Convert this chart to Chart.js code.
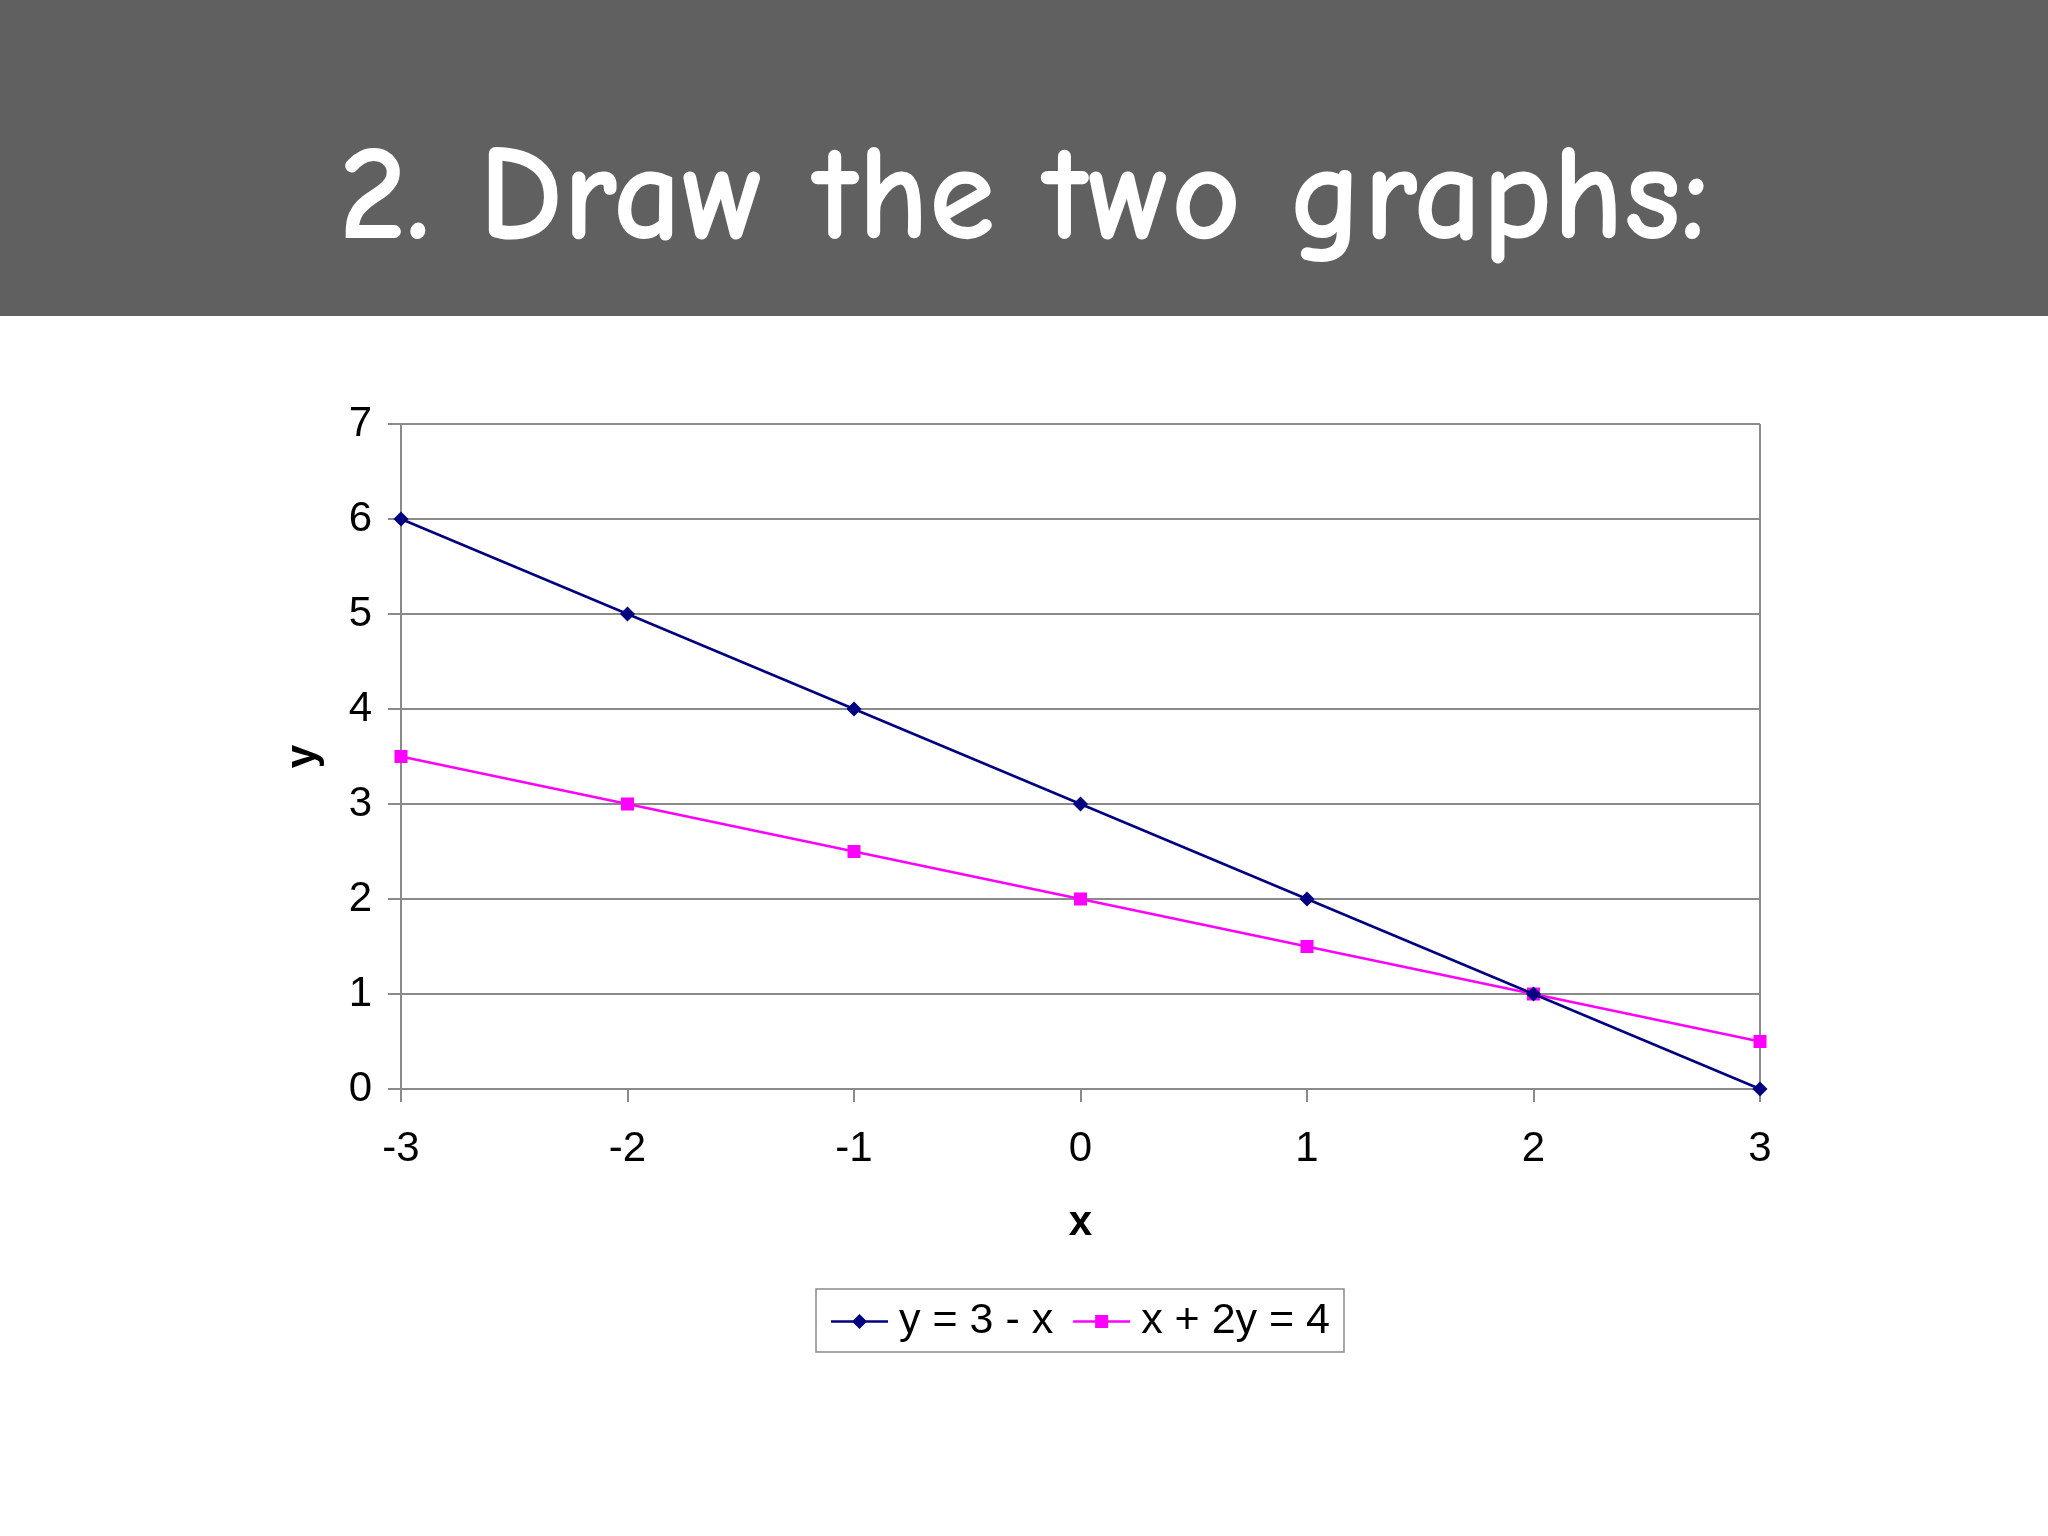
<!DOCTYPE html>
<html>
<head>
<meta charset="utf-8">
<script src="https://cdn.jsdelivr.net/npm/chart.js@4.4.1/dist/chart.umd.min.js"></script>
<style>
  html, body { margin: 0; padding: 0; background: #ffffff; }
  #titlebar {
    width: 2048px; height: 316px; background: #606060; color: #ffffff;
    font-family: "Comic Sans MS", "Comic Neue", "DejaVu Sans", sans-serif;
    font-size: 135px; font-weight: bold; line-height: 1; position: relative;
  }
  #titlebar span { position: absolute; left: 0; width: 2048px; text-align: center; top: 127px; }
  #wrap { width: 2048px; height: 1220px; position: relative; }
</style>
</head>
<body>
<div id="titlebar"><span id="titletext">2. Draw the two graphs:</span></div>
<div id="wrap"><canvas id="c" width="2048" height="1220"></canvas></div>
<script>
const xValues = [-3, -2, -1, 0, 1, 2, 3];
const seriesA = [6, 5, 4, 3, 2, 1, 0];
const seriesB = [3.5, 3, 2.5, 2, 1.5, 1, 0.5];
const seriesNames = ["y = 3 - x", "x + 2y = 4"];
const xTitle = "x";
const yTitle = "y";

const AXIS_GREY = "#8a8a8a";
const FONT = "'Liberation Sans', Arial, sans-serif";

const frame = {
  id: "frame",
  beforeDatasetsDraw(chart) {
    const a = chart.chartArea, ctx = chart.ctx;
    ctx.save();
    ctx.strokeStyle = AXIS_GREY; ctx.lineWidth = 2;
    ctx.beginPath();
    ctx.moveTo(a.right, a.top); ctx.lineTo(a.right, a.bottom);
    ctx.stroke();
    ctx.restore();
  },
  afterDraw(chart) {
    // Excel-style legend box
    const ctx = chart.ctx;
    ctx.save();
    ctx.font = "43px " + FONT;
    ctx.textBaseline = "middle";
    const ds = chart.data.datasets;
    const lineLen = 57, gapA = 11, gapB = 20, padL = 15, padR = 14;
    let widths = ds.map(d => ctx.measureText(d.label).width);
    let total = padL + padR;
    widths.forEach((w, i) => { total += lineLen + gapA + w + (i < widths.length - 1 ? gapB : 0); });
    const cx = 1080, top = 973, h = 63;
    let x = cx - total / 2;
    ctx.strokeStyle = "#8a8a8a"; ctx.lineWidth = 1.5;
    ctx.strokeRect(x, top, total, h);
    const cy = top + h / 2 + 1;
    x += padL;
    ds.forEach((d, i) => {
      ctx.strokeStyle = d.borderColor; ctx.lineWidth = 2.5;
      ctx.beginPath(); ctx.moveTo(x, cy); ctx.lineTo(x + lineLen, cy); ctx.stroke();
      ctx.fillStyle = d.backgroundColor;
      const mx = x + lineLen / 2;
      if (d.pointStyle === "rectRot") {
        ctx.beginPath(); ctx.moveTo(mx, cy - 7.5); ctx.lineTo(mx + 7.5, cy); ctx.lineTo(mx, cy + 7.5); ctx.lineTo(mx - 7.5, cy); ctx.closePath(); ctx.fill();
      } else {
        ctx.fillRect(mx - 6.5, cy - 6.5, 13, 13);
      }
      x += lineLen + gapA;
      ctx.fillStyle = "#000000";
      ctx.fillText(d.label, x, cy);
      x += widths[i] + gapB;
    });
    ctx.restore();
  }
};

new Chart(document.getElementById("c"), {
  type: "line",
  data: {
    datasets: [
      {
        label: seriesNames[0],
        data: xValues.map((x, i) => ({ x: x, y: seriesA[i] })),
        borderColor: "#000080", backgroundColor: "#000080",
        borderWidth: 2.5, pointStyle: "rectRot", pointRadius: 7.5, pointHoverRadius: 7.5,
        pointBorderWidth: 0, tension: 0, clip: false
      },
      {
        label: seriesNames[1],
        data: xValues.map((x, i) => ({ x: x, y: seriesB[i] })),
        borderColor: "#ff00ff", backgroundColor: "#ff00ff",
        borderWidth: 2.5, pointStyle: "rect", pointRadius: 9.2, pointHoverRadius: 9.2,
        pointBorderWidth: 0, tension: 0, clip: false
      }
    ]
  },
  options: {
    responsive: false, animation: false, devicePixelRatio: 1,
    layout: { padding: { left: 278, right: 288, top: 108, bottom: 287 } },
    plugins: { legend: { display: false }, tooltip: { enabled: false } },
    scales: {
      x: {
        type: "linear", min: -3, max: 3,
        afterFit(s) { s.height = 160; },
        ticks: { stepSize: 1, color: "#000", padding: 22, font: { family: FONT, size: 42 } },
        grid: { drawOnChartArea: false, tickLength: 13, tickColor: AXIS_GREY, lineWidth: 2 },
        border: { display: true, color: AXIS_GREY, width: 2 },
        title: { display: true, text: xTitle, color: "#000", padding: 0,
                 font: { family: FONT, size: 42, weight: "bold", lineHeight: 1.2 } }
      },
      y: {
        min: 0, max: 7,
        afterFit(s) { s.width = 123; },
        ticks: { stepSize: 1, color: "#000", padding: 16, font: { family: FONT, size: 42 } },
        grid: { color: AXIS_GREY, tickColor: AXIS_GREY, tickLength: 13, lineWidth: 2 },
        border: { display: true, color: AXIS_GREY, width: 2 },
        title: { display: true, text: yTitle, color: "#000", padding: 0,
                 font: { family: FONT, size: 42, weight: "bold", lineHeight: 1.2 } }
      }
    }
  },
  plugins: [frame]
});
</script>
</body>
</html>
